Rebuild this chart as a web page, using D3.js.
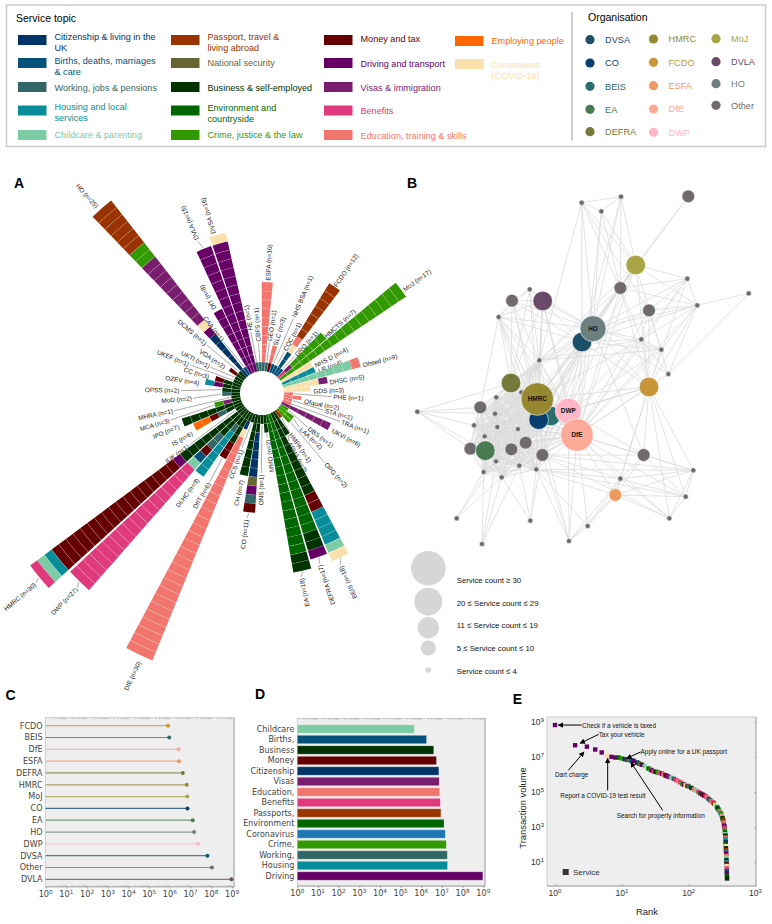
<!DOCTYPE html>
<html>
<head>
<meta charset="utf-8">
<title>GOV.UK services</title>
<script src="https://cdn.jsdelivr.net/npm/d3@7"></script>
<style>
  body { margin: 0; background: #fff; }
  svg { display: block; }
  text { font-family: "Liberation Sans", Arial, sans-serif; }
  .mpl text, text.mpl { font-family: "DejaVu Sans", sans-serif; fill: #444; }
</style>
</head>
<body>
<div id="chart"></div>
<script>
// ---- topics
var topicKeys   = ["c","b","w","h","k","p","s","u","e","r","m","d","v","f","t","o","z"];
var topicNames  = ["Citizenship & living in the|UK","Births, deaths, marriages|& care","Working, jobs & pensions","Housing and local|services","Childcare & parenting",
                   "Passport, travel &|living abroad","National security","Business & self-employed","Environment and|countryside","Crime, justice & the law",
                   "Money and tax","Driving and transport","Visas & immigration","Benefits","Education, training & skills",
                   "Employing people","Coronavirus|(COVID-19)"];
var topicColors = ["#003366","#04527a","#336666","#068d99","#7bcca4",
                   "#993300","#666633","#003300","#006600","#339900",
                   "#660000","#660066","#7b1d6e","#df3a7b","#f2766e",
                   "#ff6600","#fbe0ac"];

// ---- organisations in legend
var orgNames  = ["DVSA","CO","BEIS","EA","DEFRA","HMRC","FCDO","ESFA","DfE","DWP","MoJ","DVLA","HO","Other"];
var orgColors = ["#1c5068","#063e6e","#2a6e6e","#4a7a52","#737a3c","#968830","#c89638","#ed9a60","#ffa998","#ffb6c8","#a7a545","#6a4a6b","#6e7f80","#6e6a6d"];

// ---- panel A, clockwise from the top. stacks go from the centre outwards
var barNames  = ["HE","CBFS","ESFA","GEO","SLC","NHS BSA","CQC","FCDO","GRO","HMCTS","MoJ","NHS D","LR","Ofsted","DHSC","GDS","PHE","Ofqual","STA","TRA","UKVI","DBS","LAA","OPG","HMPA","APHA",
                 "BEIS","DEFRA","EA","MMO","ONS","CO","CH","CCS","DfE","DfIT","DLHC","DWP","HMRC","IUK","IS","IPO","MCA","MHRA","MoD","OPSS","OZEV","CC","UKEF","UKTI","VOA","DCMS","HO","CAA","DfT","DVLA","DVSA"];
var barCounts = [1,1,10,1,3,1,1,12,1,7,17,4,4,9,5,3,1,2,1,1,6,1,2,2,1,3,
                 18,17,18,2,1,11,7,1,30,6,9,27,30,1,6,7,3,1,2,2,4,3,1,1,2,1,25,1,8,15,16];
var barStacks = ["w1","w1","w1 t9","w1","m1 t2","b1","b1","b3 z1 t1 p7","b1","f1 v1 r5","r17","z4","h4","k8 t1","z4 v1","z3","t1","t2","t1","t1","v6","r1","r2","r2","p1","u3",
                 "u10 m2 h4 k1 z1","e14 u2 d1","e16 u2","u2","u1","u2 c5 s1 d1 w1 m1","u7","u1","u1 c1 z1 t27","u4 m2","u2 w1 h6","u4 w2 m1 b1 k1 f18","u9 d1 m17 h1 k1 f1","u1","u2 w1 m1 o2","u7","u1 v1 r1","u1","u1 w1","u2",
                 "u2 d1 h1","u2 m1","u1","u1","u1 m1","u1","c6 d1 z1 v9 r2 p6","b1","d8","d15","d15 z1"];
// where each label sits (polar, around the fan centre)
var labelAngles = [-10.3,-4,3,8.3,15.7,22.8,28.4,34.4,42,48.4,54,62.8,68.7,74.7,81,88,93,101,105.5,110,118,127,132.7,138,145,151,
                   155.6,161.4,168,173,180.5,187,193,200,204.6,210.4,216.7,223.5,229.9,234.4,240.2,248,253.5,258.6,265.6,271.6,279,286.8,291.4,296.6,304.4,311,318.4,323,330.5,337,343.1];
var labelRadii  = [62,50,111,51,48,81,47,128,49,83,174,58,59,103,67,50,70,41.5,64,83,78,57,51,93.5,48,55,
                   189,180,188,45.6,80,126,88,59,294,103,106,268,295,89,79,88,95,89.4,69,81,62,54,77,57,43.6,73,247,64,95,165,165];

// ---- panel B, positions are layout units
var netIds   = ["a0","a1","a2","a3","MoJ","b0","b1","b2","b3","b4","c0","c1","DVLA","c2","DVSA","HO","d0","d1","d2","d3","FCDO","DEFRA","e0","e1","e2","e3","e4","e5","e6","e7","e8","EA","e9","e10","e11","e12","e13","e14","e15","e16","f0","BEIS","CO","HMRC","DWP","DfE","g0","g1","g2","g3","g4","h0","h1","ESFA","h2","h3","h4"];
var netX     = [545,663,604,865,707,661,862,892,1046,747,389,336,428,296,546,579,724,784,805,418,747,333,364,289,241,285,222,292,354,254,211,256,334,377,427,288,358,251,305,409,52,452,416,412,505,531,170,391,246,507,563,731,661,646,880,857,808];
var netY     = [98,80,124,79,285,354,326,406,370,421,358,392,393,441,516,476,508,539,612,571,651,639,667,682,712,731,766,771,777,799,836,842,838,818,855,874,887,906,922,898,725,738,749,687,723,795,1045,1052,1122,1113,1068,855,926,975,901,980,1045];
// 0 = count <= 4, 1 = 5..10, 2 = 11..19, 3 = 20..29, 4 = >= 30
var netClass = [0,0,0,1,2,1,0,0,0,1,0,1,2,0,2,3,0,0,0,0,2,2,0,0,1,0,0,0,0,0,1,2,1,1,1,0,0,0,0,0,0,2,2,4,3,4,0,0,0,0,0,1,0,1,0,0,0];
var netLabels = ["HMRC","DfE","HO","DWP"];
// the core of the network is too dense to read, treat it as fully connected
var netCore  = ["HMRC","CO","BEIS","DWP","DfE","DEFRA","EA","e0","e1","e2","e3","e4","e5","e6","e7","e8","e9","e10","e11","e12","e13","e14","e15","e16","d3"];
var netLinks = [
 "a0 a1 a2 MoJ b0 HO DVSA d3 b4","a1 a2 MoJ b0 HO DVSA","a2 MoJ b0 HO DfE","a3 MoJ b0",
 "MoJ b0 b1 b2 FCDO HO DVSA d3 HMRC DfE DWP b4","b0 b1 b2 HO DVSA d3 d0 FCDO HMRC DfE CO","b1 b2 b4 HO FCDO d0 DfE","b2 b3 b4 HO d0 FCDO d1 d2 DVSA DfE","b3 d2",
 "b4 HO DVSA FCDO DfE d0 d1 d2","c0 c1 DVLA c2 DEFRA HMRC d3 HO","c1 DVLA c2 d3 DEFRA HMRC CO HO DVSA","DVLA c2 HO DVSA d3 DEFRA HMRC CO DWP DfE","c2 d3 DEFRA HMRC HO DVSA e0 CO DWP e2",
 "HO DVSA d0 d1 d2 d3 FCDO DEFRA HMRC CO BEIS DWP DfE EA e10 e11 e9 h0","DVSA d3 d0 d1 FCDO DEFRA HMRC CO BEIS DWP DfE e11 e10","d0 d1 d2 d3 FCDO DfE DWP HMRC","d1 FCDO DfE DWP d3","d2 FCDO DfE",
 "FCDO HMRC DWP DfE h0 h1 ESFA h2 h3 h4 BEIS CO","f0 DEFRA e2 e3 e8 e4 EA","g0 e14 e15 e12","g1 e13 e16 e15 e11","g2 e15 e14 e12 e13","g3 e16 e11 DfE ESFA g4 CO DWP h1","g4 DfE e16 ESFA h1",
 "h0 DfE DWP h1 h2 h3 e11","h1 DfE h2 h3 h4 ESFA e11 e16","ESFA DfE h0 h2 h3 h4 e16","h2 DfE h3 h4 e16 e11","h3 h4 DfE e16","h4 DfE e11"
];
var sizeLegend = ["Service count \u2265 30","20 \u2264 Service count \u2264 29","11 \u2264 Service count \u2264 19","5 \u2264 Service count \u2264 10","Service count \u2264 4"];

// ---- panel C
var volOrgs   = ["FCDO","BEIS","DfE","ESFA","DEFRA","HMRC","MoJ","CO","EA","HO","DWP","DVSA","Other","DVLA"];
var volOrgVal = [8.1e5,9.3e5,2.6e6,2.75e6,4.2e6,6.5e6,6.9e6,7.1e6,1.26e7,1.48e7,2.3e7,6.5e7,1.07e8,9.3e8];

// ---- panel D
var volTopics    = ["Childcare","Births,","Business","Money","Citizenship","Visas","Education,","Benefits","Passports,","Environment","Coronavirus","Crime,","Working,","Housing","Driving"];
var volTopicVal  = [4.6e5,1.8e6,4e6,5.4e6,7.1e6,7.4e6,7.8e6,8.3e6,8.9e6,1.26e7,1.45e7,1.62e7,1.82e7,1.86e7,9.5e8];
var volTopicCol  = ["#7bcca4","#04527a","#003300","#660000","#003366","#7b1d6e","#f2766e","#df3a7b","#993300","#006600","#1f77b4","#339900","#336666","#068d99","#660066"];

// ---- panel E
var serviceRank = [1,2,3,4,5,6,7,8,9,10,11,12,13,14,15,17,18,19,20,22,24,25,27,28,30,32,34,35,37,40,42,45,47,50,55,60,65,70,75,80,85,90,95,100,110,120,130,140,150,160,170,180,190,200,210,220,230,240,250,260,270,280,290,300,305,310,315,320,325,330,335,338,340,343,345,348,350,352,354,355,356,357,358,359,360,361,362,363,364,365,366,367,368,369,370,371,372,373,374,375];
var serviceLogVol = [8.81,7.66,7.58,7.42,7.25,7.07,7.0,6.96,6.96,6.91,6.87,6.83,6.81,6.8,6.77,6.68,6.62,6.58,6.55,6.47,6.38,6.34,6.27,6.23,6.17,6.15,6.12,6.11,6.08,6.04,6.0,5.95,5.91,5.87,5.81,5.75,5.68,5.62,5.55,5.47,5.42,5.38,5.35,5.32,5.23,5.15,5.08,5.0,4.92,4.86,4.8,4.75,4.68,4.6,4.53,4.47,4.41,4.34,4.27,4.19,4.1,4.0,3.9,3.81,3.75,3.68,3.6,3.53,3.45,3.38,3.25,3.12,3.05,3.0,2.96,2.8,2.7,2.6,2.52,2.49,2.4,2.3,2.15,2.02,1.92,1.8,1.7,1.6,1.48,1.36,1.25,1.12,1.0,0.9,0.79,0.65,0.5,0.38,0.2,0.08];
var serviceTopic = "dddddzddercphbdcvrdkzerdfubrfdtmdvkwftfrdzpwutkfedmftbwtfpzkuethrfzueptwdmfrekduthcezupwdtkuhmzfbdeuzm".split("");
var annText = ["Check if a vehicle is taxed","Tax your vehicle","Dart charge","Report a COVID-19 test result","Apply online for a UK passport","Search for property information"];
var annTail = [[2.5,8.81],[4.5,8.28],[1.58,6.23],[6.14,5.09],[19.1,7.28],[40.9,3.96]];
var annTip  = [[1.12,8.81],[2.37,7.77],[2.72,7.28],[6.14,6.92],[11.8,6.91],[13.6,6.7]];
var annTextPos = [[2.54,8.81],[4.5,8.28],[1.0,5.97],[1.2,4.8],[19.1,7.28],[8.4,3.67]];

var width = 772, height = 924;
var svg = d3.select("#chart").append("svg").attr("width", width).attr("height", height);
var topicColor = d3.scaleOrdinal().domain(topicKeys).range(topicColors);
var orgColor = d3.scaleOrdinal().domain(orgNames).range(orgColors);

svg.append("defs").append("marker")
    .attr("id", "arrow").attr("viewBox", "0 0 10 10").attr("refX", 9).attr("refY", 5)
    .attr("markerWidth", 5.5).attr("markerHeight", 5.5).attr("orient", "auto-start-reverse")
  .append("path").attr("d", "M0,0L10,5L0,10z").attr("fill", "#000");

function panel_letter(s, x, y)
{
    svg.append("text").attr("x", x).attr("y", y)
	.attr("font-size", 14).attr("font-weight", "bold").attr("text-anchor", "middle").attr("fill", "#000")
	.text(s);
}
panel_letter("A", 19, 188);
panel_letter("B", 412, 188);
panel_letter("C", 10.5, 700);
panel_letter("D", 260, 699);
panel_letter("E", 517.5, 704);

// ---- legend box on top
function draw_legend()
{
    var g = svg.append("g");
    g.append("rect").attr("x", 6.5).attr("y", 5).attr("width", 759).attr("height", 141.5)
	.attr("fill", "none").attr("stroke", "#ccc").attr("stroke-width", 1.5);
    g.append("line").attr("x1", 572).attr("x2", 572).attr("y1", 12).attr("y2", 140.5).attr("stroke", "#999");
    g.append("text").attr("x", 16).attr("y", 22).attr("font-size", 10.5).text("Service topic");
    g.append("text").attr("x", 588).attr("y", 21).attr("font-size", 10.5).text("Organisation");

    var colX = [18, 171, 324, 455];
    var colCount = [5, 5, 5, 2];
    var rowY = [40, 63, 87, 110.5, 135];
    var textY = [[37,61,87.7,106.7,135],[36.7,63,87.7,108,134.7],[38.7,63.3,87.7,111,135.7],[40.7,64.7]];
    var k = 0;
    colCount.forEach(function(n, c) {
	for(var r = 0; r < n; r++, k++)
	{
	    g.append("rect").attr("x", colX[c]).attr("y", (c==3 ? rowY[r]+1 : rowY[r])-5)
		.attr("width", 28.5).attr("height", 10).attr("fill", topicColors[k]);
	    var t = g.append("text").attr("fill", topicColors[k]).attr("font-size", 9.1);
	    topicNames[k].split("|").forEach(function(line, i) {
		t.append("tspan").attr("x", colX[c] + 36.5).attr("y", textY[c][r] + 3.3 + i*11).text(line);
	    });
	}
    });

    var orgX = [590, 653.5, 716];
    var orgRow = [[39.7,63,86.3,109.3,131.7],[39,62.3,85.7,109,132.3],[38.7,61.7,83.7,105.3]];
    k = 0;
    orgRow.forEach(function(rows, c) {
	rows.forEach(function(y) {
	    g.append("circle").attr("cx", orgX[c]).attr("cy", y).attr("r", 4.6).attr("fill", orgColors[k]);
	    g.append("text").attr("x", orgX[c] + 15).attr("y", y + 3.4).attr("font-size", 9.2)
		.attr("fill", orgColors[k]).text(orgNames[k]);
	    k++;
	});
    });
}
draw_legend();

// ---- A: fan of stacked bars
function draw_fan()
{
    var cx = 262, cy = 393;
    var g = svg.append("g").attr("transform", "translate(" + cx + "," + cy + ")");
    var angle = d3.scaleBand().domain(barNames).range([-12.79, 347.21]).paddingInner(0.09);
    var radius = d3.scaleLinear().domain([0, 30]).range([22, 289]);
    var arc = d3.arc();
    var toRad = Math.PI/180;

    barNames.forEach(function(name, i) {
	var a0 = angle(name), a1 = a0 + angle.bandwidth();
	var mid = (a0 + a1)/2;
	var cell = 0;
	var cells = [];
	barStacks[i].split(" ").forEach(function(s) {
	    var key = s.charAt(0), n = +s.slice(1);
	    for(var j = 0; j < n; j++) cells.push({ key: key, pos: cell++ });
	});
	g.selectAll(null).data(cells).enter().append("path")
	    .attr("d", function(d) {
		return arc({ innerRadius: radius(d.pos), outerRadius: radius(d.pos + 1), startAngle: a0*toRad, endAngle: a1*toRad });
	    })
	    .attr("fill", function(d) { return topicColor(d.key); });
	// thin pale separators between the services
	g.selectAll(null).data(cells.slice(1)).enter().append("path")
	    .attr("d", function(d) {
		return arc({ innerRadius: radius(d.pos) - 0.2, outerRadius: radius(d.pos) + 0.2, startAngle: a0*toRad, endAngle: a1*toRad });
	    })
	    .attr("fill", "#fff").attr("opacity", 0.4);

	var la = labelAngles[i], lr = labelRadii[i] + 1.5;
	var tip = radius(cell);
	if(lr - tip > 7)
	    g.append("line")
		.attr("x1", (tip + 1)*Math.sin(mid*toRad)).attr("y1", -(tip + 1)*Math.cos(mid*toRad))
		.attr("x2", (lr - 1.5)*Math.sin(la*toRad)).attr("y2", -(lr - 1.5)*Math.cos(la*toRad))
		.attr("stroke", "#555").attr("stroke-width", 0.5);
	var norm = (la + 360) % 360;
	var outward = norm < 153 || norm >= 328;
	g.append("text")
	    .attr("transform", "translate(" + lr*Math.sin(la*toRad) + "," + (-lr*Math.cos(la*toRad)) + ") rotate(" + (outward ? la - 90 : la + 90) + ")")
	    .attr("text-anchor", outward ? "start" : "end")
	    .attr("dy", "0.35em").attr("font-size", 6.4).attr("fill", "#222")
	    .text(name + " (n=" + barCounts[i] + ")");
    });
    g.append("circle").attr("r", 21.5).attr("fill", "#fff");
}
draw_fan();

// ---- B: network
function draw_network()
{
    var x = d3.scaleLinear().domain([0, 1116]).range([400, 772]);
    var y = d3.scaleLinear().domain([0, 1110]).range([170, 540]);
    var r = d3.scaleOrdinal().domain([0,1,2,3,4]).range([2.6, 6.4, 9.8, 13, 16.3]);
    var index = {};
    netIds.forEach(function(id, i) { index[id] = i; });

    var pairs = [];
    netCore.forEach(function(a, i) {
	netCore.slice(i + 1).forEach(function(b) { pairs.push([a, b]); });
    });
    netLinks.forEach(function(row) {
	var p = row.split(" ");
	p.slice(1).forEach(function(b) { pairs.push([p[0], b]); });
    });

    var g = svg.append("g");
    g.selectAll("line").data(pairs).enter().append("line")
	.attr("x1", function(d) { return x(netX[index[d[0]]]); })
	.attr("y1", function(d) { return y(netY[index[d[0]]]); })
	.attr("x2", function(d) { return x(netX[index[d[1]]]); })
	.attr("y2", function(d) { return y(netY[index[d[1]]]); })
	.attr("stroke", "#dcdcdc").attr("stroke-width", 0.8);

    g.selectAll("circle").data(netIds).enter().append("circle")
	.attr("cx", function(d, i) { return x(netX[i]); })
	.attr("cy", function(d, i) { return y(netY[i]); })
	.attr("r", function(d, i) { return r(netClass[i]); })
	.attr("fill", function(d) { return orgNames.indexOf(d) >= 0 ? orgColor(d) : orgColor("Other"); })
	.attr("stroke", "#fff").attr("stroke-width", 0.6);

    g.selectAll("text").data(netLabels).enter().append("text")
	.attr("x", function(d) { return x(netX[index[d]]); })
	.attr("y", function(d) { return y(netY[index[d]]) + 2.3; })
	.attr("text-anchor", "middle").attr("font-size", 6.4).attr("font-weight", "bold").attr("fill", "#111")
	.text(function(d) { return d; });

    // size key
    var keyR = [17.3, 14, 10.7, 7.6, 2.7];
    var keyY = [568.3, 601.7, 627.7, 648, 670];
    var keyTextY = [580, 603, 625.7, 648.3, 671];
    sizeLegend.forEach(function(s, i) {
	g.append("circle").attr("cx", 428.3).attr("cy", keyY[i]).attr("r", keyR[i]).attr("fill", "#d6d6d6");
	g.append("text").attr("x", 456.7).attr("y", keyTextY[i] + 2.6).attr("font-size", 7.8).attr("fill", "#111").text(s);
    });
}
draw_network();

// ---- shared frame for the small log plots
function draw_frame(x0, x1, y0, y1)
{
    var g = svg.append("g");
    g.append("rect").attr("x", x0).attr("y", y0).attr("width", x1 - x0).attr("height", y1 - y0)
	.attr("fill", "#eee").attr("stroke", "#c4c4c4").attr("stroke-width", 0.8);
    g.append("path").attr("d", "M" + x0 + "," + y1 + "H" + x1 + "V" + y0)
	.attr("fill", "none").attr("stroke", "#bbb").attr("stroke-width", 1.4);
    return g;
}

function minor_values(lo, hi)
{
    var out = [];
    for(var e = lo; e < hi; e++)
	for(var m = 2; m < 10; m++) out.push(m*Math.pow(10, e));
    return out;
}

function log_axis_x(scale, yPos, exps, fs, fontClass)
{
    var g = svg.append("g").attr("transform", "translate(0," + yPos + ")");
    g.call(d3.axisBottom(scale).tickValues(exps.map(function(e) { return Math.pow(10, e); })).tickFormat("").tickSize(2));
    g.select(".domain").remove();
    g.selectAll("line").attr("stroke", "#666").attr("stroke-width", 0.5);
    var labels = g.selectAll("text.lab").data(exps).enter().append("text")
	.attr("class", fontClass)
	.attr("x", function(e) { return scale(Math.pow(10, e)); })
	.attr("y", 10).attr("text-anchor", "middle").attr("font-size", fs);
    labels.append("tspan").text("10");
    labels.append("tspan").attr("dy", -3).attr("font-size", fs*0.7).text(function(e) { return e; });
    return g;
}

function minor_ticks(scale, y, lo, hi, dir)
{
    var g = svg.append("g").attr("transform", "translate(0," + y + ")");
    g.call((dir > 0 ? d3.axisBottom(scale) : d3.axisTop(scale)).tickValues(minor_values(lo, hi)).tickFormat("").tickSize(1.5));
    g.select(".domain").remove();
    g.selectAll("line").attr("stroke", "#888").attr("stroke-width", 0.4);
}

// ---- C: lollipops by organisation
function draw_org_volume()
{
    var x = d3.scaleLog().domain([1, 1e9]).range([45.7, 232]);
    var y = d3.scalePoint().domain(volOrgs).range([725.7, 879.3]);
    var g = draw_frame(45.3, 234, 717.7, 886.7);
    minor_ticks(x, 886.7, 0, 9, -1);
    minor_ticks(x, 717.7, 0, 9, 1);
    g.selectAll("line.stem").data(volOrgs).enter().append("line")
	.attr("x1", x(1))
	.attr("x2", function(d, i) { return x(volOrgVal[i]); })
	.attr("y1", function(d) { return y(d); }).attr("y2", function(d) { return y(d); })
	.attr("stroke", function(d) { return orgColor(d); }).attr("stroke-width", 1.2).attr("stroke-opacity", 0.75);
    g.selectAll("circle").data(volOrgs).enter().append("circle")
	.attr("cx", function(d, i) { return x(volOrgVal[i]); })
	.attr("cy", function(d) { return y(d); })
	.attr("r", 2).attr("fill", function(d) { return orgColor(d); });
    g.selectAll("text").data(volOrgs).enter().append("text")
	.attr("class", "mpl").attr("x", 42.5)
	.attr("y", function(d) { return y(d) + 2.9; })
	.attr("text-anchor", "end").attr("font-size", 8)
	.text(function(d) { return d; });
    log_axis_x(x, 886.7, d3.range(0, 10), 8.2, "mpl");
}
draw_org_volume();

// ---- D: bars by topic
function draw_topic_volume()
{
    var x = d3.scaleLog().domain([1, 1e9]).range([297.3, 483.3]);
    var y = d3.scaleBand().domain(volTopics).range([724.8, 880.2]).paddingInner(0.2);
    var g = draw_frame(297.3, 485, 718.3, 886);
    minor_ticks(x, 718.3, 0, 9, 1);
    g.selectAll("rect.bar").data(volTopics).enter().append("rect")
	.attr("class", "bar")
	.attr("x", x(1))
	.attr("y", function(d) { return y(d); })
	.attr("height", y.bandwidth())
	.attr("width", function(d, i) { return x(volTopicVal[i]) - x(1); })
	.attr("fill", function(d, i) { return volTopicCol[i]; })
	.attr("stroke", "#fff").attr("stroke-opacity", 0.35).attr("stroke-width", 0.8);
    g.selectAll("text").data(volTopics).enter().append("text")
	.attr("class", "mpl").attr("x", 294.3)
	.attr("y", function(d) { return y(d) + y.bandwidth()/2 + 2.9; })
	.attr("text-anchor", "end").attr("font-size", 8)
	.text(function(d) { return d; });
    log_axis_x(x, 886, d3.range(0, 10), 8.2, "mpl");
}
draw_topic_volume();

// ---- E: rank / volume
function draw_rank()
{
    var x = d3.scaleLog().domain([1, 1000]).range([555, 755.5]);
    var y = d3.scaleLinear().domain([1, 9]).range([862.3, 721.7]);
    var g = draw_frame(547, 756, 717, 886);

    // axis ticks inside the frame, as the reference shows
    var ax = svg.append("g").attr("transform", "translate(0,886)")
	.call(d3.axisTop(x).tickValues([1, 10, 100, 1000]).tickFormat("").tickSize(2));
    ax.select(".domain").remove();
    ax.selectAll("line").attr("stroke", "#888").attr("stroke-width", 0.5);
    var ay = svg.append("g").attr("transform", "translate(756,0)")
	.call(d3.axisLeft(y).tickValues([1, 3, 5, 7, 9]).tickFormat("").tickSize(2));
    ay.select(".domain").remove();
    ay.selectAll("line").attr("stroke", "#888").attr("stroke-width", 0.5);

    g.selectAll("rect.pt").data(serviceRank).enter().append("rect")
	.attr("class", "pt")
	.attr("x", function(d) { return x(d) - 2.2; })
	.attr("y", function(d, i) { return y(serviceLogVol[i]) - 2.2; })
	.attr("width", 4.4).attr("height", 4.4)
	.attr("fill", function(d, i) { return topicColor(serviceTopic[i % serviceTopic.length]); });

    annText.forEach(function(t, i) {
	svg.append("line")
	    .attr("x1", x(annTail[i][0])).attr("y1", y(annTail[i][1]))
	    .attr("x2", x(annTip[i][0])).attr("y2", y(annTip[i][1]))
	    .attr("stroke", "#000").attr("stroke-width", 1)
	    .attr("marker-end", "url(#arrow)");
	svg.append("text")
	    .attr("x", x(annTextPos[i][0])).attr("y", y(annTextPos[i][1]) + 2.5)
	    .attr("font-size", 6.4).attr("fill", "#111").text(t);
    });

    // tick labels
    [0, 1, 2, 3].forEach(function(e) {
	var t = svg.append("text").attr("x", x(Math.pow(10, e))).attr("y", 896).attr("text-anchor", "middle").attr("font-size", 8.6).attr("fill", "#333");
	t.append("tspan").text("10");
	t.append("tspan").attr("dy", -3).attr("font-size", 6).text(e);
    });
    [1, 3, 5, 7, 9].forEach(function(e) {
	var t = svg.append("text").attr("x", 544).attr("y", y(e) + 3).attr("text-anchor", "end").attr("font-size", 8.6).attr("fill", "#333");
	t.append("tspan").text("10");
	t.append("tspan").attr("dy", -3).attr("font-size", 6).text(e);
    });

    svg.append("text").attr("x", 647).attr("y", 915).attr("text-anchor", "middle").attr("font-size", 9.4).attr("fill", "#222").text("Rank");
    svg.append("text").attr("transform", "translate(526,808) rotate(-90)").attr("text-anchor", "middle")
	.attr("font-size", 9.4).attr("fill", "#222").text("Transaction volume");

    svg.append("rect").attr("x", 562.7).attr("y", 869).attr("width", 6).attr("height", 6).attr("fill", "#333");
    svg.append("text").attr("x", 573).attr("y", 875).attr("font-size", 8).attr("fill", "#333").text("Service");
}
draw_rank();
</script>
</body>
</html>
